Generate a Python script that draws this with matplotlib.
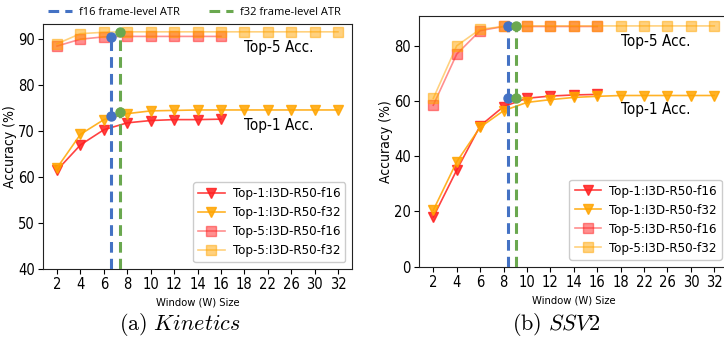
import matplotlib
matplotlib.use("Agg")
import matplotlib.pyplot as plt
from matplotlib.lines import Line2D

plt.rcParams['font.family'] = ['DejaVu Sans']
plt.rcParams['font.stretch'] = 'condensed'
plt.rcParams['mathtext.fontset'] = 'cm'

# window sizes (categorical axis)
windows = ["2", "4", "6", "8", "10", "12", "14", "16", "18", "22", "26", "30", "32"]

# Kinetics
kin_top1_f16 = [61.5, 67.0, 70.3, 71.8, 72.3, 72.5, 72.5, 72.6]
kin_top1_f32 = [62.0, 69.3, 72.5, 73.8, 74.4, 74.5, 74.6, 74.6, 74.6, 74.6, 74.6, 74.6, 74.6]
kin_top5_f16 = [88.5, 90.0, 90.5, 90.6, 90.6, 90.6, 90.6, 90.6]
kin_top5_f32 = [89.0, 91.2, 91.5, 91.6, 91.6, 91.6, 91.6, 91.6, 91.6, 91.6, 91.6, 91.6, 91.6]
kin_atr = [6.6, 7.4]           # f16, f32 frame-level ATR (window size)
kin_atr_top1 = [73.2, 74.1]
kin_atr_top5 = [90.5, 91.6]

# SSV2
ssv_top1_f16 = [18.0, 35.0, 51.0, 58.0, 61.0, 61.8, 62.2, 62.4]
ssv_top1_f32 = [20.5, 38.0, 50.5, 56.5, 59.5, 60.5, 61.3, 61.7, 62.0, 62.0, 62.0, 62.0, 62.0]
ssv_top5_f16 = [58.5, 77.0, 85.5, 87.0, 87.0, 87.0, 87.0, 87.0]
ssv_top5_f32 = [61.0, 80.0, 86.0, 87.0, 87.2, 87.2, 87.2, 87.2, 87.2, 87.2, 87.2, 87.2, 87.2]
ssv_atr = [8.4, 9.06]
ssv_atr_top1 = [61.2, 61.2]
ssv_atr_top5 = [87.3, 87.3]

RED = "#ff2020"
ORANGE = "#ffa500"
BLUE = "#4472c4"
GREEN = "#6aa84f"
DASH = (0, (3.5, 2))


def w_to_pos(w):
    # windows 2..18 are evenly spaced by 2 on the index axis
    return (w - 2) / 2.0


def draw_panel(ax, t1_16, t1_32, t5_16, t5_32, atr, atr_t1, atr_t5, ylim, yticks,
               t5_y, t1_y):
    x16 = list(range(len(t1_16)))
    x32 = list(range(len(t1_32)))
    ax.plot(x16, t1_16, color=RED, marker='v', ms=6.5, lw=1.2, alpha=0.85,
            label="Top-1:I3D-R50-f16")
    ax.plot(x32, t1_32, color=ORANGE, marker='v', ms=6.5, lw=1.2, alpha=0.85,
            label="Top-1:I3D-R50-f32")
    ax.plot(x16, t5_16, color=RED, marker='s', ms=6.5, lw=1.2, alpha=0.5,
            label="Top-5:I3D-R50-f16")
    ax.plot(x32, t5_32, color=ORANGE, marker='s', ms=6.5, lw=1.2, alpha=0.5,
            label="Top-5:I3D-R50-f32")

    for w, c, y1, y5 in zip(atr, [BLUE, GREEN], atr_t1, atr_t5):
        p = w_to_pos(w)
        ax.plot([p, p], [ylim[0], y5], color=c, ls=DASH, lw=2.2, zorder=4)
        ax.plot([p, p], [y1, y5], ls='none', marker='o', ms=6.5, color=c, zorder=5)

    ax.set_ylim(*ylim)
    ax.set_yticks(yticks)
    ax.set_xticks(range(len(windows)))
    ax.set_xticklabels(windows)
    ax.tick_params(labelsize=10.5, length=3.5, pad=2.5)
    ax.set_ylabel("Accuracy (%)", fontsize=10, labelpad=1)
    ax.set_xlabel("Window (W) Size", fontsize=8, labelpad=4)
    ax.text(8, t5_y, "Top-5 Acc.", fontsize=11, va='center', ha='left')
    ax.text(8, t1_y, "Top-1 Acc.", fontsize=11, va='center', ha='left')
    ax.legend(loc='lower right', fontsize=9.5, handlelength=2, borderpad=0.4,
              labelspacing=0.45, handletextpad=0.6, framealpha=1,
              edgecolor='#cccccc', fancybox=True)
    for s in ax.spines.values():
        s.set_color('#222222')


fig = plt.figure(figsize=(7.24, 3.4), dpi=100)
ax1 = fig.add_axes([0.0594, 0.2088, 0.4268, 0.7206])
ax2 = fig.add_axes([0.5791, 0.2156, 0.4269, 0.7374])

draw_panel(ax1, kin_top1_f16, kin_top1_f32, kin_top5_f16, kin_top5_f32,
           kin_atr, kin_atr_top1, kin_atr_top5, (40, 93.3), [40, 50, 60, 70, 80, 90],
           88.1, 71.2)
draw_panel(ax2, ssv_top1_f16, ssv_top1_f32, ssv_top5_f16, ssv_top5_f32,
           ssv_atr, ssv_atr_top1, ssv_atr_top5, (0, 90.8), [0, 20, 40, 60, 80],
           81.4, 56.9)

# ATR legend above the left panel
handles = [Line2D([], [], color=BLUE, ls=DASH, lw=2.2),
           Line2D([], [], color=GREEN, ls=DASH, lw=2.2)]
fig.legend(handles, ["f16 frame-level ATR", "f32 frame-level ATR"],
           loc='center left', bbox_to_anchor=(0.052, 0.963), ncol=2, frameon=False,
           handlelength=2.2, columnspacing=2.6, handletextpad=0.6,
           prop={'family': 'Open Sans', 'size': 8, 'stretch': 'normal'})

fig.text(0.249, 0.045, r"$\mathrm{(a)}\ Kinetics$", ha='center', va='center', fontsize=16)
fig.text(0.768, 0.045, r"$\mathrm{(b)}\ SSV2$", ha='center', va='center', fontsize=16)

fig.savefig("out.png", dpi=100)
